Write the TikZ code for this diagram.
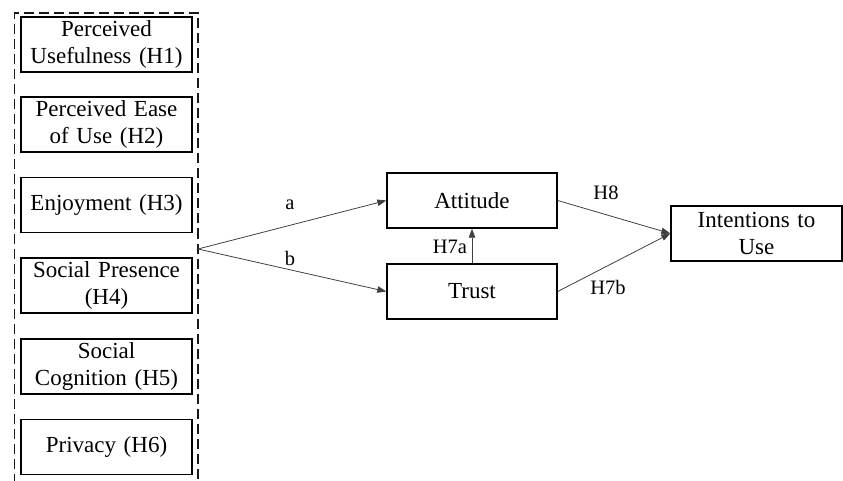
\documentclass[tikz,border=0pt]{standalone}
\usepackage{fontspec}
\setmainfont{Liberation Serif}
\usetikzlibrary{arrows.meta}
\begin{document}
\begin{tikzpicture}[x=1pt,y=-1pt,%
        every node/.style={font=\fontsize{23}{27}\selectfont},
        box/.style={draw=black,line width=1.4pt,minimum width=171pt,
          minimum height=55pt,text width=167pt,align=center,inner sep=0pt},
        lbl/.style={font=\fontsize{20.5}{24}\selectfont,inner sep=0pt},
        link/.style={draw=black!75,line width=0.8pt,
          -{Triangle[length=9pt,width=6.5pt]}}]
  \useasboundingbox (0,0) rectangle (843,481);
  % group of antecedents
  \draw[line width=1.2pt,dash pattern=on 10pt off 5pt,draw=black!90]
    (14.5,484) -- (14.5,13) -- (198,13) -- (198,484);
  \node[box] (h1) at (106.5,44.5) {Perceived\\Usefulness (H1)};
  \node[box] (h2) at (106.5,124.5) {Perceived Ease\\of Use (H2)};
  \node[box] (h3) at (106.5,205) {Enjoyment (H3)};
  \node[box] (h4) at (106.5,285.5) {Social Presence\\(H4)};
  \node[box] (h5) at (106.5,366.5) {Social\\Cognition (H5)};
  \node[box] (h6) at (106.5,447) {Privacy (H6)};
  \coordinate (grp) at (198,249);
  % mediators and outcome
  \node[box,minimum width=170pt] (att) at (472,200.5) {Attitude};
  \node[box,minimum width=170pt] (tru) at (472,291.5) {Trust};
  \node[box] (int) at (756.5,233.5) {Intentions to\\Use};
  % paths
  \draw[link] (grp) -- (att.west);
  \draw[link] (grp) -- (tru.west);
  \draw[link] (tru.north) -- (att.south);
  \draw[link] (att.east) -- (int.west);
  \draw[link] (tru.east) -- (int.west);
  \node[lbl] (la) at (290,205) {a};
  \node[lbl] (lb) at (290,258) {b};
  \node[lbl] (l7a) at (450,247) {H7a};
  \node[lbl] (l8) at (606,193) {H8};
  \node[lbl] (l7b) at (608,287) {H7b};
\end{tikzpicture}
\end{document}
